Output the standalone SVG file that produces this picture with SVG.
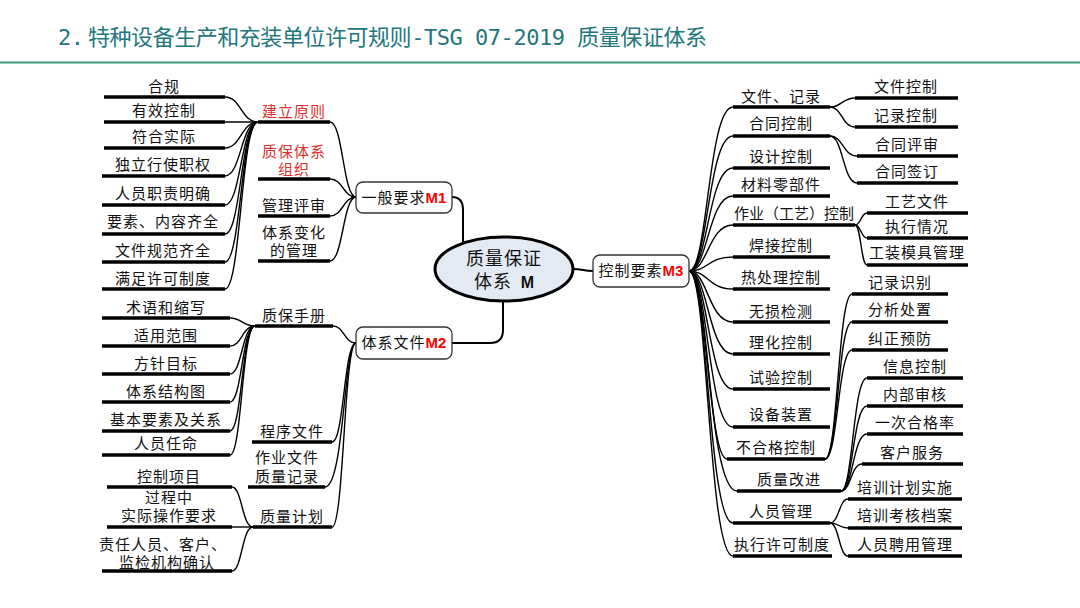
<svg xmlns="http://www.w3.org/2000/svg" width="1080" height="608" viewBox="0 0 1080 608">
<style>
.t{font-family:"Noto Sans CJK SC","Noto Sans",sans-serif;font-size:15px;fill:#111;text-anchor:middle;letter-spacing:1px}
.r{fill:#E0302E}
.m{font-family:"Liberation Sans",Arial,sans-serif;font-weight:bold;fill:#FF0000;letter-spacing:0}
.u{stroke:#000;stroke-width:3.5;fill:none}
.c{fill:none;stroke:#000;stroke-width:1.4}
.b{fill:#fff;stroke:#333;stroke-width:1.3}
.mono{font-family:"DejaVu Sans Mono","Liberation Mono",monospace}
</style>
<rect width="1080" height="608" fill="#fff"/>
<text x="58" y="45" textLength="649" lengthAdjust="spacing" style="font-family:'Noto Sans CJK SC',sans-serif;font-size:22px;fill:#23777C"><tspan class="mono">2.</tspan> 特种设备生产和充装单位许可规则<tspan class="mono">-TSG 07-2019 </tspan>质量保证体系</text>
<line x1="0" y1="62.5" x2="1080" y2="62.5" stroke="#3D9A7F" stroke-width="2"/>

<g id="connectors">
<path class="c" style="stroke-width:2" d="M452,197 Q463,197 463,210 L463,243"/>
<path class="c" style="stroke-width:2" d="M452,343 L490,343 Q503,343 503,330 L503,301"/>
<path class="c" style="stroke-width:2" d="M573,269 C583,269 583,271 593,271"/>
<path class="c" d="M356,197 C343,197 343,122 330,122"/>
<path class="c" d="M356,197 C343,197 343,179 330,179"/>
<path class="c" d="M356,197 C343,197 343,216 330,216"/>
<path class="c" d="M356,197 C343,197 343,261 330,261"/>
<path class="c" d="M258,122 C241,122 241,97 225,97"/>
<path class="c" d="M258,122 L225,122"/>
<path class="c" d="M258,122 C241,122 241,148 225,148"/>
<path class="c" d="M258,122 C241,122 241,176 225,176"/>
<path class="c" d="M258,122 C241,122 241,205 225,205"/>
<path class="c" d="M258,122 C241,122 241,234 225,234"/>
<path class="c" d="M258,122 C241,122 241,262 225,262"/>
<path class="c" d="M258,122 C241,122 241,289 225,289"/>
<path class="c" d="M356,343 C344,343 344,326 333,326"/>
<path class="c" d="M356,343 C344,343 344,442 332,442"/>
<path class="c" d="M356,343 C344,343 344,487 325,487"/>
<path class="c" d="M356,343 C344,343 344,527 332,527"/>
<path class="c" d="M255,326 C242,326 242,318 230,318"/>
<path class="c" d="M255,326 C242,326 242,346 230,346"/>
<path class="c" d="M255,326 C242,326 242,374 230,374"/>
<path class="c" d="M255,326 C242,326 242,402 230,402"/>
<path class="c" d="M255,326 C242,326 242,431 230,431"/>
<path class="c" d="M255,326 C242,326 242,455 230,455"/>
<path class="c" d="M253,527 C242,527 242,487 232,487"/>
<path class="c" d="M253,527 L232,527"/>
<path class="c" d="M253,527 C242,527 242,571 232,571"/>
<path class="c" d="M689,271 C708,271 708,107 733,107"/>
<path class="c" d="M689,271 C708,271 708,136 733,136"/>
<path class="c" d="M689,271 C708,271 708,168 733,168"/>
<path class="c" d="M689,271 C708,271 708,196 733,196"/>
<path class="c" d="M689,271 C708,271 708,225 733,225"/>
<path class="c" d="M689,271 C708,271 708,257 733,257"/>
<path class="c" d="M689,271 C708,271 708,289 733,289"/>
<path class="c" d="M689,271 C708,271 708,322 733,322"/>
<path class="c" d="M689,271 C708,271 708,354 733,354"/>
<path class="c" d="M689,271 C708,271 708,389 733,389"/>
<path class="c" d="M689,271 C708,271 708,427 733,427"/>
<path class="c" d="M689,271 C708,271 708,459 727,459"/>
<path class="c" d="M689,271 C708,271 708,491 737,491"/>
<path class="c" d="M689,271 C708,271 708,523 733,523"/>
<path class="c" d="M689,271 C708,271 708,556 733,556"/>
<path class="c" d="M830,107 C842,107 842,98 855,98"/>
<path class="c" d="M830,107 C842,107 842,127 855,127"/>
<path class="c" d="M830,136 C843,136 843,156 857,156"/>
<path class="c" d="M830,136 C843,136 843,183 857,183"/>
<path class="c" d="M855,225 C861,225 861,213 867,213"/>
<path class="c" d="M855,225 C861,225 861,238 867,238"/>
<path class="c" d="M855,225 C861,225 861,265 867,265"/>
<path class="c" d="M825,459 C838,459 838,294 852,294"/>
<path class="c" d="M825,459 C838,459 838,322 852,322"/>
<path class="c" d="M825,459 C838,459 838,350 852,350"/>
<path class="c" d="M841,491 C853,491 853,378 867,378"/>
<path class="c" d="M841,491 C853,491 853,406 867,406"/>
<path class="c" d="M841,491 C853,491 853,434 867,434"/>
<path class="c" d="M841,491 C851,491 851,464 862,464"/>
<path class="c" d="M830,523 C839,523 839,499 848,499"/>
<path class="c" d="M830,523 C839,523 839,528 848,528"/>
<path class="c" d="M830,523 C839,523 839,556 848,556"/>
</g>

<g id="center">
<ellipse cx="504" cy="269" rx="69" ry="32" fill="#E4EAF4" stroke="#000" stroke-width="3"/>
<text class="t" style="font-size:18px"><tspan x="504" y="265">质量保证</tspan><tspan x="493" y="288">体系</tspan><tspan x="528" y="288" style="font-family:'Liberation Sans',sans-serif;font-weight:bold;font-size:16px">M</tspan></text>
</g>

<g id="m1">
<rect class="b" x="356" y="182" width="96" height="31" rx="7"/>
<text class="t" x="404" y="203">一般要求<tspan class="m">M1</tspan></text>
</g>
<g id="m2">
<rect class="b" x="356" y="327" width="96" height="32" rx="7"/>
<text class="t" x="404" y="348">体系文件<tspan class="m">M2</tspan></text>
</g>
<g id="m3">
<rect class="b" x="593" y="255" width="96" height="32" rx="7"/>
<text class="t" x="641" y="276">控制要素<tspan class="m">M3</tspan></text>
</g>

<g id="jianli"><line class="u" x1="258" y1="122" x2="330" y2="122"/><text class="t r" x="294" y="117">建立原则</text></g>
<g id="zhibao-zuzhi"><line class="u" x1="258" y1="179" x2="330" y2="179"/><text class="t r"><tspan x="294" y="157">质保体系</tspan><tspan x="294" y="175">组织</tspan></text></g>
<g id="guanli-pingshen"><line class="u" x1="258" y1="216" x2="330" y2="216"/><text class="t" x="294" y="211">管理评审</text></g>
<g id="tixi-bianhua"><line class="u" x1="258" y1="261" x2="330" y2="261"/><text class="t"><tspan x="294" y="238">体系变化</tspan><tspan x="294" y="256">的管理</tspan></text></g>

<g id="hegui"><line class="u" x1="104" y1="97" x2="225" y2="97"/><text class="t" x="164" y="92">合规</text></g>
<g id="youxiao"><line class="u" x1="104" y1="122" x2="225" y2="122"/><text class="t" x="164" y="116">有效控制</text></g>
<g id="fuhe"><line class="u" x1="104" y1="148" x2="225" y2="148"/><text class="t" x="164" y="142">符合实际</text></g>
<g id="duli"><line class="u" x1="102" y1="176" x2="225" y2="176"/><text class="t" x="163" y="170">独立行使职权</text></g>
<g id="renyuan-zhize"><line class="u" x1="102" y1="205" x2="225" y2="205"/><text class="t" x="163" y="199">人员职责明确</text></g>
<g id="yaosu"><line class="u" x1="102" y1="234" x2="225" y2="234"/><text class="t" x="163" y="227">要素、内容齐全</text></g>
<g id="wenjian-guifan"><line class="u" x1="102" y1="262" x2="225" y2="262"/><text class="t" x="163" y="256">文件规范齐全</text></g>
<g id="manzu"><line class="u" x1="102" y1="289" x2="225" y2="289"/><text class="t" x="163" y="284">满足许可制度</text></g>

<g id="zhibao-shouce"><line class="u" x1="255" y1="326" x2="333" y2="326"/><text class="t" x="294" y="321">质保手册</text></g>
<g id="chengxu"><line class="u" x1="252" y1="442" x2="332" y2="442"/><text class="t" x="292" y="437">程序文件</text></g>
<g id="zuoye-wenjian"><line class="u" x1="248" y1="487" x2="325" y2="487"/><text class="t"><tspan x="287" y="463">作业文件</tspan><tspan x="287" y="482">质量记录</tspan></text></g>
<g id="zhiliang-jihua"><line class="u" x1="253" y1="527" x2="332" y2="527"/><text class="t" x="292" y="522">质量计划</text></g>

<g id="shuyu"><line class="u" x1="102" y1="318" x2="230" y2="318"/><text class="t" x="166" y="313">术语和缩写</text></g>
<g id="shiyong"><line class="u" x1="102" y1="346" x2="230" y2="346"/><text class="t" x="166" y="341">适用范围</text></g>
<g id="fangzhen"><line class="u" x1="102" y1="374" x2="230" y2="374"/><text class="t" x="166" y="369">方针目标</text></g>
<g id="tixi-jiegou"><line class="u" x1="102" y1="402" x2="230" y2="402"/><text class="t" x="166" y="397">体系结构图</text></g>
<g id="jiben"><line class="u" x1="102" y1="431" x2="230" y2="431"/><text class="t" x="166" y="425">基本要素及关系</text></g>
<g id="renming"><line class="u" x1="102" y1="455" x2="230" y2="455"/><text class="t" x="166" y="449">人员任命</text></g>
<g id="kongzhi-xiangmu"><line class="u" x1="107" y1="487" x2="232" y2="487"/><text class="t" x="169" y="482">控制项目</text></g>
<g id="guocheng"><line class="u" x1="107" y1="527" x2="232" y2="527"/><text class="t"><tspan x="169" y="503">过程中</tspan><tspan x="169" y="521">实际操作要求</tspan></text></g>
<g id="zeren"><line class="u" x1="102" y1="571" x2="232" y2="571"/><text class="t"><tspan x="163" y="550">责任人员、客户、</tspan><tspan x="167" y="568">监检机构确认</tspan></text></g>

<g id="wenjian-jilu"><line class="u" x1="733" y1="107" x2="830" y2="107"/><text class="t" x="781" y="102">文件、记录</text></g>
<g id="hetong"><line class="u" x1="733" y1="136" x2="830" y2="136"/><text class="t" x="781" y="129">合同控制</text></g>
<g id="sheji"><line class="u" x1="733" y1="168" x2="830" y2="168"/><text class="t" x="781" y="162">设计控制</text></g>
<g id="cailiao"><line class="u" x1="733" y1="196" x2="830" y2="196"/><text class="t" x="781" y="190">材料零部件</text></g>
<g id="zuoye-gongyi"><line class="u" x1="733" y1="225" x2="855" y2="225"/><text class="t" x="794" y="219" style="letter-spacing:0">作业（工艺）控制</text></g>
<g id="hanjie"><line class="u" x1="733" y1="257" x2="830" y2="257"/><text class="t" x="781" y="251">焊接控制</text></g>
<g id="rechuli"><line class="u" x1="733" y1="289" x2="830" y2="289"/><text class="t" x="781" y="283">热处理控制</text></g>
<g id="wusun"><line class="u" x1="733" y1="322" x2="830" y2="322"/><text class="t" x="781" y="317">无损检测</text></g>
<g id="lihua"><line class="u" x1="733" y1="354" x2="830" y2="354"/><text class="t" x="781" y="348">理化控制</text></g>
<g id="shiyan"><line class="u" x1="733" y1="389" x2="830" y2="389"/><text class="t" x="781" y="383">试验控制</text></g>
<g id="shebei"><line class="u" x1="733" y1="427" x2="830" y2="427"/><text class="t" x="781" y="420">设备装置</text></g>
<g id="buhege"><line class="u" x1="727" y1="459" x2="825" y2="459"/><text class="t" x="776" y="453">不合格控制</text></g>
<g id="gaijin"><line class="u" x1="737" y1="491" x2="841" y2="491"/><text class="t" x="789" y="485">质量改进</text></g>
<g id="renyuan-guanli"><line class="u" x1="733" y1="523" x2="830" y2="523"/><text class="t" x="781" y="517">人员管理</text></g>
<g id="zhixing"><line class="u" x1="733" y1="556" x2="832" y2="556"/><text class="t" x="782" y="550">执行许可制度</text></g>

<g id="wenjian-kongzhi"><line class="u" x1="855" y1="98" x2="958" y2="98"/><text class="t" x="906" y="92">文件控制</text></g>
<g id="jilu-kongzhi"><line class="u" x1="855" y1="127" x2="958" y2="127"/><text class="t" x="906" y="121">记录控制</text></g>
<g id="hetong-pingshen"><line class="u" x1="857" y1="156" x2="958" y2="156"/><text class="t" x="907" y="150">合同评审</text></g>
<g id="hetong-qianding"><line class="u" x1="857" y1="183" x2="958" y2="183"/><text class="t" x="907" y="177">合同签订</text></g>
<g id="gongyi-wenjian"><line class="u" x1="867" y1="213" x2="968" y2="213"/><text class="t" x="917" y="207">工艺文件</text></g>
<g id="zhixing-qingkuang"><line class="u" x1="867" y1="238" x2="968" y2="238"/><text class="t" x="917" y="232">执行情况</text></g>
<g id="gongzhuang"><line class="u" x1="867" y1="265" x2="968" y2="265"/><text class="t" x="917" y="258">工装模具管理</text></g>
<g id="jilu-shibie"><line class="u" x1="852" y1="294" x2="948" y2="294"/><text class="t" x="900" y="288">记录识别</text></g>
<g id="fenxi"><line class="u" x1="852" y1="322" x2="948" y2="322"/><text class="t" x="900" y="315">分析处置</text></g>
<g id="jiuzheng"><line class="u" x1="852" y1="350" x2="948" y2="350"/><text class="t" x="900" y="344">纠正预防</text></g>
<g id="xinxi"><line class="u" x1="867" y1="378" x2="963" y2="378"/><text class="t" x="915" y="372">信息控制</text></g>
<g id="neibu"><line class="u" x1="867" y1="406" x2="963" y2="406"/><text class="t" x="915" y="400">内部审核</text></g>
<g id="yici"><line class="u" x1="867" y1="434" x2="963" y2="434"/><text class="t" x="915" y="428">一次合格率</text></g>
<g id="kehu"><line class="u" x1="862" y1="464" x2="963" y2="464"/><text class="t" x="912" y="458">客户服务</text></g>
<g id="peixun-jihua"><line class="u" x1="848" y1="499" x2="962" y2="499"/><text class="t" x="905" y="493">培训计划实施</text></g>
<g id="peixun-kaohe"><line class="u" x1="848" y1="528" x2="962" y2="528"/><text class="t" x="905" y="521">培训考核档案</text></g>
<g id="pinyong"><line class="u" x1="848" y1="556" x2="962" y2="556"/><text class="t" x="905" y="550">人员聘用管理</text></g>
</svg>
